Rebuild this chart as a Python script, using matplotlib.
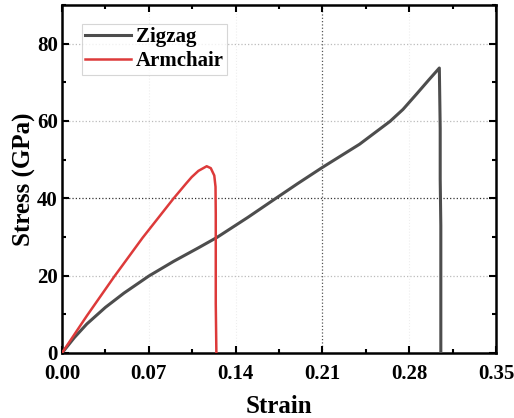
import matplotlib
matplotlib.use("Agg")
import matplotlib.pyplot as plt
from matplotlib.ticker import MultipleLocator

plt.rcParams['font.family'] = ['Liberation Serif', 'DejaVu Serif']
plt.rcParams['font.weight'] = 'bold'

zig_strain = [0.0, 0.01, 0.02, 0.035, 0.05, 0.07, 0.09, 0.11, 0.125, 0.15, 0.172, 0.19,
              0.21, 0.24, 0.2645, 0.275, 0.286, 0.296, 0.3043, 0.305, 0.305, 0.3055, 0.3055]
zig_stress = [0.0, 4.0, 7.5, 11.8, 15.5, 19.9, 23.7, 27.2, 29.9, 35.1, 39.9, 43.8,
              48.0, 54.0, 59.9, 63.0, 67.0, 70.7, 73.7, 58.1, 45.0, 33.0, 0.0]

arm_strain = [0.0, 0.02, 0.042, 0.065, 0.0898, 0.1, 0.1046, 0.11, 0.1167, 0.12, 0.1228,
              0.1238, 0.124, 0.124, 0.1245]
arm_stress = [0.0, 9.6, 19.7, 29.8, 39.9, 43.8, 45.5, 47.1, 48.3, 47.8, 45.9,
              43.0, 36.0, 12.8, 0.0]

x_ticks = [0.00, 0.07, 0.14, 0.21, 0.28, 0.35]
y_ticks = [0, 20, 40, 60, 80]

fig = plt.figure(figsize=(5.14, 4.18), dpi=100)
ax = fig.add_axes([62/514, 1-353/418, (496-62)/514, (353-5)/418])

ax.plot(zig_strain, zig_stress, color='#4d4d4d', lw=2.2, label='Zigzag', zorder=3,
        solid_joinstyle='round')
ax.plot(arm_strain, arm_stress, color='#dd3a3a', lw=1.8, label='Armchair', zorder=4,
        solid_joinstyle='round')

ax.set_xlim(0, 0.35)
ax.set_ylim(0, 90)
ax.set_xticks(x_ticks)
ax.set_xticklabels([f"{t:.2f}" for t in x_ticks])
ax.set_yticks(y_ticks)
ax.xaxis.set_minor_locator(MultipleLocator(0.035))
ax.yaxis.set_minor_locator(MultipleLocator(10))

for y in [20, 60, 80]:
    ax.axhline(y, color='#bbbbbb', ls=':', lw=0.9, zorder=1)
ax.axhline(40, color='#333333', ls=':', lw=0.9, zorder=1)
for x in [0.07, 0.14, 0.28]:
    ax.axvline(x, color='#eeeeee', ls=':', lw=0.8, zorder=1)
ax.axvline(0.21, color='#555555', ls=':', lw=0.9, zorder=1)

ax.tick_params(which='both', direction='in', top=True, right=True, width=1.5)
ax.tick_params(which='major', length=5, labelsize=15)
ax.tick_params(axis='x', which='major', pad=8)
ax.tick_params(axis='y', which='major', pad=3)
ax.tick_params(which='minor', length=3)
for s in ax.spines.values():
    s.set_linewidth(1.8)
for lab in ax.get_xticklabels() + ax.get_yticklabels():
    lab.set_fontweight('bold')

ax.set_xlabel('Strain', fontsize=18, fontweight='bold', labelpad=8)
ax.set_ylabel('Stress (GPa)', fontsize=18, fontweight='bold', labelpad=1)

leg = ax.legend(loc='upper left', bbox_to_anchor=(0.046, 0.945), borderaxespad=0,
                fontsize=15, frameon=True, fancybox=False, edgecolor='#cccccc',
                handlelength=2.2, handletextpad=0.25, borderpad=0.15, labelspacing=0.2)
leg.get_frame().set_linewidth(0.8)
for t in leg.get_texts():
    t.set_fontweight('bold')

fig.savefig('out.png', dpi=100)
